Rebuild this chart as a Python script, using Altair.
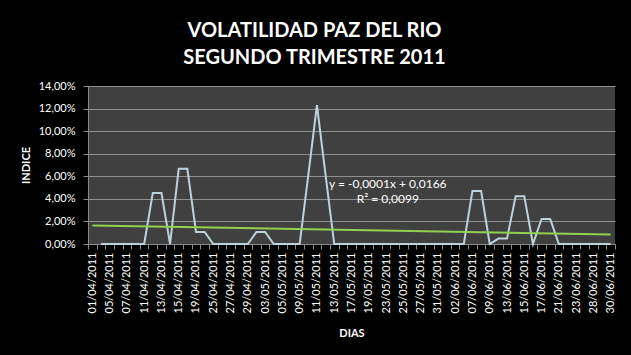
import json
import altair as alt
import pandas as pd

# ---- data ----
dates = [
    "01/04/2011", "04/04/2011", "05/04/2011", "06/04/2011", "07/04/2011", "08/04/2011",
    "11/04/2011", "12/04/2011", "13/04/2011", "14/04/2011", "15/04/2011", "18/04/2011",
    "19/04/2011", "20/04/2011", "25/04/2011", "26/04/2011", "27/04/2011", "28/04/2011",
    "29/04/2011", "02/05/2011", "03/05/2011", "04/05/2011", "05/05/2011", "06/05/2011",
    "09/05/2011", "10/05/2011", "11/05/2011", "12/05/2011", "13/05/2011", "16/05/2011",
    "17/05/2011", "18/05/2011", "19/05/2011", "20/05/2011", "23/05/2011", "24/05/2011",
    "25/05/2011", "26/05/2011", "27/05/2011", "30/05/2011", "31/05/2011", "01/06/2011",
    "02/06/2011", "03/06/2011", "07/06/2011", "08/06/2011", "09/06/2011", "10/06/2011",
    "13/06/2011", "14/06/2011", "15/06/2011", "16/06/2011", "17/06/2011", "20/06/2011",
    "21/06/2011", "22/06/2011", "23/06/2011", "24/06/2011", "28/06/2011", "29/06/2011",
    "30/06/2011",
]
volatility = [
    None, 0, 0, 0, 0, 0, 0,
    0.0453, 0.0453, 0, 0.0666, 0.0666, 0.0107, 0.0107,
    0, 0, 0, 0, 0, 0.0107, 0.0107,
    0, 0, 0, 0, 0.061, 0.123, 0.061,
    0, 0, 0, 0, 0, 0, 0, 0, 0, 0, 0, 0, 0, 0, 0, 0,
    0.047, 0.047, 0, 0.0048, 0.0048, 0.0424, 0.0424, 0, 0.0222, 0.0222,
    0, 0, 0, 0, 0, 0, 0,
]
y_ticks = [0, 0.02, 0.04, 0.06, 0.08, 0.10, 0.12, 0.14]
title_lines = ["VOLATILIDAD PAZ DEL RIO", "SEGUNDO TRIMESTRE 2011"]
eq_text = ["y = -0,0001x + 0,0166", "R² = 0,0099"]
eq_pos_idx = [34.2, 34.2]
eq_pos_val = [0.0536, 0.0397]

df = pd.DataFrame({"idx": list(range(len(dates))), "fecha": dates, "vol": volatility})
ann = pd.DataFrame({"t": eq_text, "idx": eq_pos_idx, "v": eq_pos_val})

shown = dates[::2]
x_label_expr = "indexof(" + json.dumps(shown) + ", datum.label) >= 0 ? datum.label : ''"
y_label_expr = "replace(format(datum.value, '.2%'), '.', ',')"

FONT = "Lato"
W, H = 527, 158

yscale = alt.Scale(domain=[0, 0.14], nice=False)
yaxis = alt.Axis(
    title="INDICE",
    values=y_ticks,
    labelExpr=y_label_expr,
    labelOverlap=False,
    tickSize=5,
    labelPadding=8,
    titlePadding=7,
    grid=True,
)

line = alt.Chart(df).mark_line(color="#bcd3dc", strokeWidth=2).encode(
    x=alt.X(
        "fecha:O",
        sort=dates,
        scale=alt.Scale(type="band", paddingInner=0, paddingOuter=0),
        axis=alt.Axis(
            title="DIAS",
            labelAngle=-90,
            labelExpr=x_label_expr,
            labelOverlap=False,
            tickBand="extent",
            tickSize=5,
            labelPadding=3,
            titlePadding=15,
        ),
    ),
    y=alt.Y("vol:Q", scale=yscale, axis=yaxis),
)

xq = alt.Scale(domain=[-0.5, len(dates) - 0.5], nice=False, zero=False)

trend = (
    alt.Chart(df)
    .transform_filter("isValid(datum.vol)")
    .transform_regression("idx", "vol", extent=[0, len(dates) - 1])
    .mark_line(color="#92d050", strokeWidth=2)
    .encode(
        x=alt.X("idx:Q", scale=xq, axis=None),
        y=alt.Y("vol:Q", scale=yscale, axis=yaxis),
    )
)

text = alt.Chart(ann).mark_text(
    color="#ffffff", font=FONT, fontSize=12, baseline="middle", align="center"
).encode(
    x=alt.X("idx:Q", scale=xq, axis=None),
    y=alt.Y("v:Q", scale=yscale, axis=yaxis),
    text="t:N",
)

chart = (
    alt.layer(line, trend, text)
    .resolve_scale(x="independent")
    .properties(
        width=W,
        height=H,
        autosize=alt.AutoSizeParams(type="none"),
        padding={"left": 88, "top": 86, "right": 16, "bottom": 111},
        background="#000000",
        title=alt.TitleParams(
            text=title_lines,
            font=FONT,
            fontSize=20,
            fontWeight="bold",
            color="#ffffff",
            anchor="middle",
            dx=-37,
            offset=12,
            lineHeight=27,
        ),
    )
    .configure_view(fill="#404040", stroke=None)
    .configure_axis(
        labelFont=FONT,
        labelFontSize=11,
        labelColor="#ffffff",
        titleFont=FONT,
        titleFontSize=11,
        titleFontWeight="bold",
        titleColor="#ffffff",
        domainColor="#8a8a8a",
        tickColor="#8a8a8a",
        gridColor="#8f8f8f",
        gridWidth=1,
    )
)

chart.save("out.html", embed_options={"renderer": "svg", "actions": False})
